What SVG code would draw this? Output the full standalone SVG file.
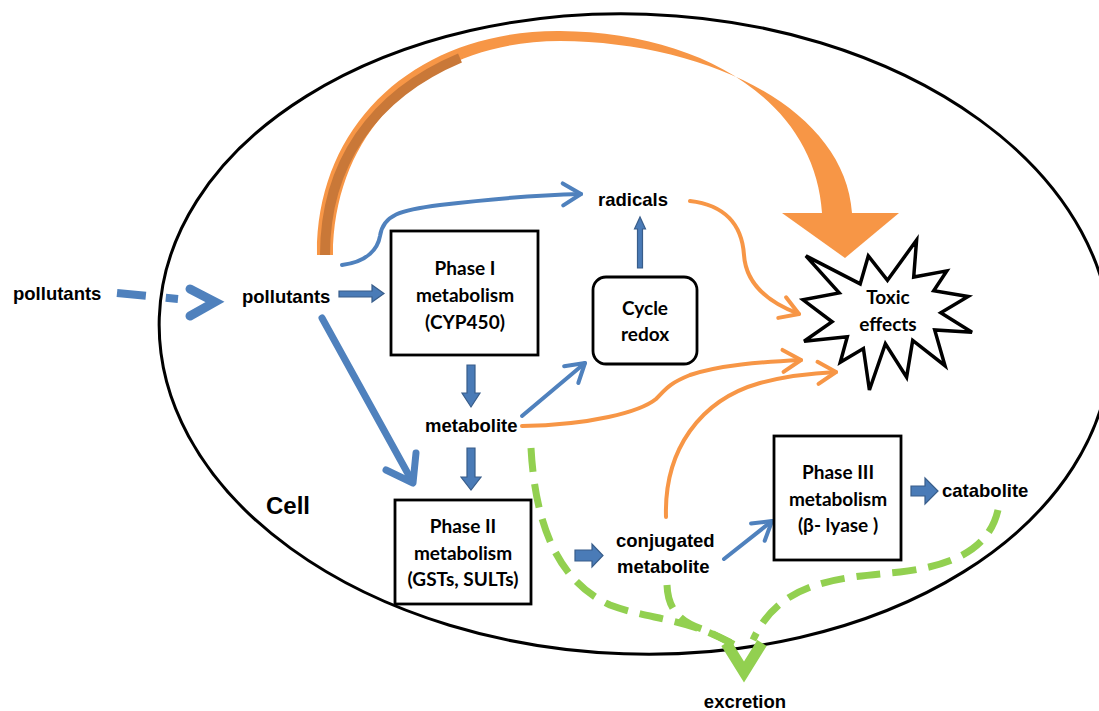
<svg xmlns="http://www.w3.org/2000/svg" width="1099" height="711" viewBox="0 0 1099 711">
<defs>
<style>
.t{font-family:"Liberation Sans",Arial,sans-serif;font-weight:700;font-size:18.5px;fill:#000}
.c{font-family:Lato,"Open Sans",sans-serif;font-weight:700;font-size:19px;fill:#000;text-anchor:middle}
.box{fill:#fff;stroke:#000;stroke-width:2.8}
.bl{fill:none;stroke:#4F81BD;stroke-width:4;stroke-linecap:round}
.or{fill:none;stroke:#F79646;stroke-width:4;stroke-linecap:round}
.gr{fill:none;stroke:#92D050;stroke-width:7;stroke-dasharray:24 12}
.blk{fill:#4A7BB7;stroke:#385D8A;stroke-width:1.2}
</style>
<marker id="mb" markerUnits="userSpaceOnUse" markerWidth="24" markerHeight="28" viewBox="0 0 24 28" refX="21" refY="14" orient="auto">
<path d="M3,3 L21,14 L3,25" fill="none" stroke="#4F81BD" stroke-width="4" stroke-linecap="round" stroke-linejoin="round"/>
</marker>
<marker id="mo" markerUnits="userSpaceOnUse" markerWidth="24" markerHeight="28" viewBox="0 0 24 28" refX="21" refY="14" orient="auto">
<path d="M3,3 L21,14 L3,25" fill="none" stroke="#F79646" stroke-width="4" stroke-linecap="round" stroke-linejoin="round"/>
</marker>
</defs>
<rect width="1099" height="711" fill="#fff"/>

<g id="cell">
<ellipse cx="635" cy="334" rx="476" ry="320" transform="rotate(2 635 334)" fill="none" stroke="#000" stroke-width="3"/>
<text class="t" x="266" y="514" style="font-size:24px">Cell</text>
</g>

<g id="connectors">
<!-- big orange arrow -->
<path d="M317,255 C316,120 420,30 560,31 C700,32 815,100 822,213 L852,213 C845,110 710,42 560,41 C430,41 334,125 333,255 Z" fill="#F79646"/>
<path d="M325,255 C325,165 372,95 460,58" fill="none" stroke="#C97838" stroke-width="10"/>
<polygon points="782,213 899,213 845,258" fill="#F79646"/>

<!-- outside pollutants -> pollutants -->
<path d="M117,293 L178,299" fill="none" stroke="#4F81BD" stroke-width="8" stroke-dasharray="29 20"/>
<polyline points="190,289 215,302 190,316" fill="none" stroke="#4F81BD" stroke-width="9" stroke-linecap="round" stroke-linejoin="miter"/>

<!-- pollutants -> Phase I -->
<polygon class="blk" points="339,291 372,291 372,285 384,293.5 372,302 372,297 339,297"/>
<!-- pollutants -> radicals -->
<path class="bl" d="M342,265 C368,262 378,248 380,236 C383,215 400,210 440,205 C490,199 540,195 581,194" marker-end="url(#mb)"/>
<!-- pollutants -> Phase II -->
<line x1="322" y1="318" x2="412" y2="481" stroke="#4F81BD" stroke-width="7" stroke-linecap="round"/>
<polyline points="386,470 413,483 416,453" fill="none" stroke="#4F81BD" stroke-width="7" stroke-linecap="round" stroke-linejoin="round"/>
<!-- Phase I -> metabolite -->
<polygon class="blk" points="467,365 475,365 475,393 480,393 471,407 462,393 467,393"/>
<!-- metabolite -> Phase II -->
<polygon class="blk" points="467,448 475,448 475,477 481,477 471,490 461,477 467,477"/>
<!-- metabolite -> Cycle redox -->
<line class="bl" x1="522" y1="416" x2="585" y2="363" marker-end="url(#mb)"/>
<!-- Cycle redox -> radicals -->
<polygon class="blk" points="637.5,268 642.5,268 642.5,229 645.5,229 640,217 634.5,229 637.5,229"/>
<!-- Phase II -> conjugated -->
<polygon class="blk" points="575,550 592,550 592,544 603,555.5 592,567 592,561 575,561"/>
<!-- conjugated -> Phase III -->
<line class="bl" x1="724" y1="559" x2="772" y2="521" marker-end="url(#mb)"/>
<!-- Phase III -> catabolite -->
<polygon class="blk" points="911,486 925,486 925,478 938,491 925,504 925,496 911,496"/>

<!-- orange thin arrows -->
<path class="or" d="M690,201 C725,205 742,225 744,255 C746,285 770,303 799,314" marker-end="url(#mo)"/>
<path class="or" d="M522,426 C590,425 640,412 656,399 C666,389 668,384 690,375 C720,365 760,362 801,360" marker-end="url(#mo)"/>
<path class="or" d="M666,517 C664,450 700,400 760,383 C790,375 815,373 836,372" marker-end="url(#mo)"/>

<!-- green dashed to excretion -->
<path class="gr" d="M531,448 C535,520 555,580 610,605 C650,620 685,617 735,645"/>
<path class="gr" d="M667,585 C668,610 680,622 705,630 L735,645"/>
<path class="gr" d="M998,510 C990,545 960,565 900,572 C840,578 780,580 753,640"/>
<polyline points="726,643 744,672 762,643" fill="none" stroke="#92D050" stroke-width="11" stroke-linejoin="miter"/>
</g>

<g id="n-pollutants-out"><text class="t" x="13" y="300">pollutants</text></g>
<g id="n-pollutants"><text class="t" x="242" y="303">pollutants</text></g>
<g id="n-radicals"><text class="t" x="598" y="206">radicals</text></g>
<g id="n-metabolite"><text class="t" x="425" y="432">metabolite</text></g>
<g id="n-conjugated"><text class="t" x="616" y="547">conjugated</text><text class="t" x="617" y="573">metabolite</text></g>
<g id="n-catabolite"><text class="t" x="942" y="497">catabolite</text></g>
<g id="n-excretion"><text class="t" x="745" y="708" text-anchor="middle">excretion</text></g>

<g id="n-phase1">
<rect class="box" x="391" y="231" width="147" height="124"/>
<text class="c" x="465" y="275">Phase I</text>
<text class="c" x="465" y="302">metabolism</text>
<text class="c" x="465" y="329">(CYP450)</text>
</g>
<g id="n-cycle">
<rect class="box" x="593" y="277" width="104" height="87" rx="13"/>
<text class="c" x="645" y="315">Cycle</text>
<text class="c" x="645" y="341">redox</text>
</g>
<g id="n-phase2">
<rect class="box" x="395" y="500" width="136" height="104"/>
<text class="c" x="463" y="533">Phase II</text>
<text class="c" x="463" y="560">metabolism</text>
<text class="c" x="463" y="586">(GSTs, SULTs)</text>
</g>
<g id="n-phase3">
<rect class="box" x="774" y="436" width="127" height="124"/>
<text class="c" x="838" y="479">Phase III</text>
<text class="c" x="838" y="506">metabolism</text>
<text class="c" x="838" y="532">(β- lyase )</text>
</g>
<g id="n-toxic">
<polygon points="887.5,280.3 916.6,240 913.7,277 946.8,270.9 933.7,290.8 968.1,296.5 940.8,312.7 972,332.3 934.7,329.9 945,365.7 912.7,340.4 906.6,377.1 885.4,343.7 869.4,390 863.4,348.5 840.3,362.3 847.3,336.8 804.1,341.3 832.1,321.8 803,299.8 839.2,292.9 805.9,255.9 860.2,283.9 868.3,255.9" fill="#fff" stroke="#000" stroke-width="3.5" stroke-linejoin="miter"/>
<text class="c" x="888" y="304">Toxic</text>
<text class="c" x="888" y="331">effects</text>
</g>
</svg>
